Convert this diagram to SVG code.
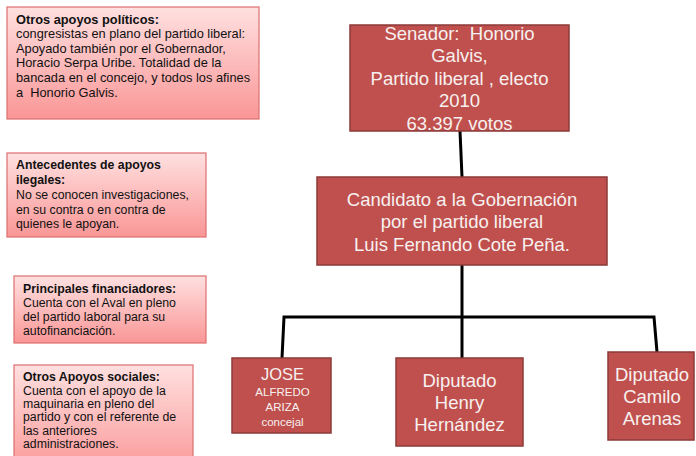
<svg xmlns="http://www.w3.org/2000/svg" width="696" height="456" viewBox="0 0 696 456">
<defs>
<linearGradient id="pink" x1="0" y1="0" x2="0" y2="1">
<stop offset="0" stop-color="#ffe0e0"/>
<stop offset="1" stop-color="#fa9696"/>
</linearGradient>
<style>
.side{fill:url(#pink);stroke:#dd6e6e;stroke-width:1.2}
.st{font-family:"Liberation Sans",Arial,sans-serif;font-size:12.3px;fill:#111;white-space:pre}
.b{font-weight:bold}
.main{fill:#c0504d;stroke:#8c3a38;stroke-width:1.5}
.mt{font-family:"Liberation Sans",Arial,sans-serif;font-size:18.5px;fill:#f7f0f0;text-anchor:middle;white-space:pre}
.small{font-size:11.5px}
.con{fill:none;stroke:#000;stroke-width:3}
</style>
</defs>
<rect width="696" height="456" fill="#fff"/>
<g id="n-otros-politicos">
<rect class="side" x="7" y="7" width="252" height="112"/>
<text class="st" style="font-size:12.8px"><tspan class="b" x="16" y="23.5">Otros apoyos políticos:</tspan><tspan x="16" y="38">congresistas en plano del partido liberal:</tspan><tspan x="16" y="52.7">Apoyado también por el Gobernador,</tspan><tspan x="16" y="67.4">Horacio Serpa Uribe. Totalidad de la</tspan><tspan x="16" y="82">bancada en el concejo, y todos los afines</tspan><tspan x="16" y="96.7">a  Honorio Galvis.</tspan></text>
</g>
<g id="n-antecedentes">
<rect class="side" x="7" y="153" width="199" height="84"/>
<text class="st"><tspan class="b" x="16" y="169">Antecedentes de apoyos</tspan><tspan class="b" x="16" y="183.6">ilegales:</tspan><tspan x="16" y="198.8">No se conocen investigaciones,</tspan><tspan x="16" y="213.5">en su contra o en contra de</tspan><tspan x="16" y="228">quienes le apoyan.</tspan></text>
</g>
<g id="n-financiadores">
<rect class="side" x="14" y="276" width="192" height="67"/>
<text class="st"><tspan class="b" x="23" y="293">Principales financiadores:</tspan><tspan x="23" y="307">Cuenta con el Aval en pleno</tspan><tspan x="23" y="321">del partido laboral para su</tspan><tspan x="23" y="335">autofinanciación.</tspan></text>
</g>
<g id="n-sociales">
<rect class="side" x="14" y="365" width="179" height="110"/>
<text class="st"><tspan class="b" x="23" y="381">Otros Apoyos sociales:</tspan><tspan x="23" y="394.5">Cuenta con el apoyo de la</tspan><tspan x="23" y="408">maquinaria en pleno del</tspan><tspan x="23" y="421.4">partido y con el referente de</tspan><tspan x="23" y="434.8">las anteriores</tspan><tspan x="23" y="448.2">administraciones.</tspan></text>
</g>
<g id="connectors">
<path class="con" d="M460 131 L462 177"/>
<path class="con" d="M462 265 L462 358"/>
<path class="con" d="M282 358 L284 317 L654 317 L657 352"/>
</g>
<g id="n-senador">
<rect class="main" x="350" y="25" width="219" height="106"/>
<text class="mt"><tspan x="459.5" y="39.5">Senador:  Honorio</tspan><tspan x="459.5" y="62">Galvis,</tspan><tspan x="459.5" y="85">Partido liberal , electo</tspan><tspan x="459.5" y="107">2010</tspan><tspan x="459.5" y="129.5">63.397 votos</tspan></text>
</g>
<g id="n-candidato">
<rect class="main" x="317" y="177" width="290" height="88"/>
<text class="mt"><tspan x="462" y="205.5">Candidato a la Gobernación</tspan><tspan x="462" y="228">por el partido liberal</tspan><tspan x="462" y="250.5">Luis Fernando Cote Peña.</tspan></text>
</g>
<g id="n-jose">
<rect class="main" x="232" y="358" width="99" height="75"/>
<text class="mt"><tspan x="282.5" y="380" style="font-size:16.5px">JOSE</tspan><tspan class="small" x="282.5" y="396">ALFREDO</tspan><tspan class="small" x="282.5" y="411">ARIZA</tspan><tspan class="small" x="282.5" y="426">concejal</tspan></text>
</g>
<g id="n-henry">
<rect class="main" x="396" y="358" width="127" height="88"/>
<text class="mt"><tspan x="459.5" y="387">Diputado</tspan><tspan x="459.5" y="409">Henry</tspan><tspan x="459.5" y="431">Hernández</tspan></text>
</g>
<g id="n-camilo">
<rect class="main" x="608" y="352" width="86" height="88"/>
<text class="mt"><tspan x="652" y="381">Diputado</tspan><tspan x="652" y="403">Camilo</tspan><tspan x="652" y="425">Arenas</tspan></text>
</g>
</svg>
